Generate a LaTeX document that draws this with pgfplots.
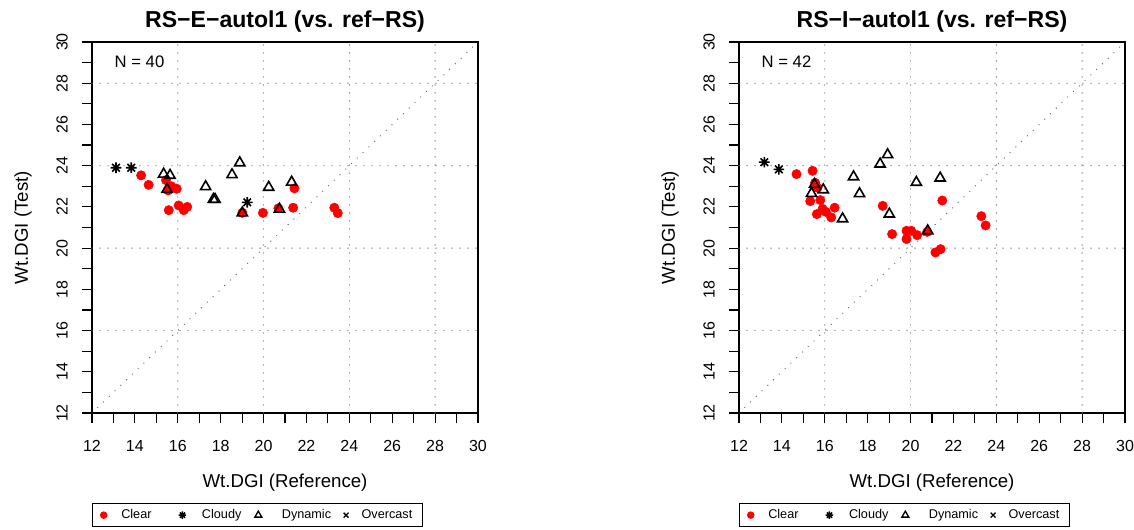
\documentclass[border=0pt]{standalone}
\usepackage{pgfplots}
\pgfplotsset{compat=1.18}
\usepackage{fontspec}
\setmainfont{Liberation Sans}

\pgfdeclareplotmark{rstar}{%
  \pgfpathmoveto{\pgfqpoint{-\pgfplotmarksize}{0pt}}\pgfpathlineto{\pgfqpoint{\pgfplotmarksize}{0pt}}%
  \pgfpathmoveto{\pgfqpoint{0pt}{-\pgfplotmarksize}}\pgfpathlineto{\pgfqpoint{0pt}{\pgfplotmarksize}}%
  \pgfpathmoveto{\pgfqpoint{-0.7071\pgfplotmarksize}{-0.7071\pgfplotmarksize}}\pgfpathlineto{\pgfqpoint{0.7071\pgfplotmarksize}{0.7071\pgfplotmarksize}}%
  \pgfpathmoveto{\pgfqpoint{-0.7071\pgfplotmarksize}{0.7071\pgfplotmarksize}}\pgfpathlineto{\pgfqpoint{0.7071\pgfplotmarksize}{-0.7071\pgfplotmarksize}}%
  \pgfusepathqstroke}

\pgfplotsset{
 dgi/.style={
  scale only axis, width=289.5pt, height=278.25pt,
  xmin=12, xmax=30, ymin=12, ymax=30,
  xtick={12,14,...,30}, ytick={12,14,...,30},
  minor xtick={13,15,...,29}, minor ytick={13,15,...,29},
  tick align=outside, tick pos=left,
  major tick length=7.5pt, minor tick length=7.5pt,
  every tick/.style={black, line width=0.9pt},
  axis line style={line width=1pt, black},
  extra x ticks={16,20,24,28}, extra y ticks={16,20,24,28},
  extra x tick labels={}, extra y tick labels={},
  extra tick style={grid=major, major tick length=0pt},
  major grid style={draw=black!60, line width=1pt, line cap=round, dash pattern=on 0pt off 6pt},
  /pgf/number format/assume math mode=true,
  ticklabel style={font=\fontsize{12}{14}\selectfont},
  xticklabel style={anchor=center, yshift=-17.5pt},
  yticklabel style={anchor=center, xshift=-15pt, rotate=90},
  title style={at={(0.5,1.0593)}, anchor=center, yshift=-7.5pt, font=\bfseries\fontsize{17.3}{20}\selectfont},
  xlabel style={at={(0.5,-0.1887)}, anchor=center, font=\fontsize{14}{16}\selectfont},
  ylabel style={at={(-0.1788,0.5)}, anchor=center, font=\fontsize{14}{16}\selectfont},
  xlabel={Wt.DGI (Reference)}, ylabel={Wt.DGI (Test)},
  legend columns=4,
  legend image code/.code={\path (0pt,0pt) (10pt,0pt);\draw[mark repeat=2,mark phase=2,##1] plot coordinates {(0pt,0pt)(5pt,0pt)(10pt,0pt)};},
  legend style={at={(0,-0.2426)}, anchor=north west, draw=black, line width=0.8pt,
    font=\fontsize{9.5}{11}\selectfont, inner xsep=3pt, inner ysep=2.5pt,
    column sep=0pt,
    /tikz/every even column/.style={column sep=0pt},
    /tikz/every odd column/.style={column sep=0pt},
    nodes={inner xsep=0pt}},
  clear/.style={only marks, mark=*, mark size=3.5pt, color=red, mark options={fill=red, draw=red}},
  cloudy/.style={only marks, mark=rstar, mark size=4pt, black, mark options={line width=1.2pt}},
  dynamic/.style={only marks, mark=triangle, mark size=4.4pt, black, mark options={line width=1.2pt, fill=none}},
  refline/.style={draw=black!60, line width=1pt, line cap=round, dash pattern=on 0pt off 6pt},
 }
}

\newcommand{\dgilegend}{%
\addlegendimage{only marks, mark=*, mark size=2.4pt, red, mark options={fill=red}}
\addlegendentry{\makebox[48.25pt][l]{\hspace*{7.75pt}Clear}}
\addlegendimage{only marks, mark=rstar, mark size=2.8pt, black, mark options={line width=1.1pt}}
\addlegendentry{\makebox[46.1pt][l]{\hspace*{9.25pt}Cloudy}}
\addlegendimage{only marks, mark=triangle, mark size=3pt, black, mark options={line width=1pt}}
\addlegendentry{\makebox[55pt][l]{\hspace*{12.25pt}Dynamic}}
\addlegendimage{only marks, mark=x, mark size=2.6pt, black, mark options={line width=1pt}}
\addlegendentry{\makebox[49.05pt][l]{\hspace*{6.25pt}Overcast}}
}

\begin{document}
\begin{tikzpicture}
\useasboundingbox (-69pt,-87pt) rectangle (781.5pt,309.75pt);

\begin{axis}[dgi, at={(0pt,0pt)}, anchor=south west,
  title={RS−E−autol1 (vs. ref−RS)}]
\addplot[refline, forget plot] coordinates {(12,12) (30,30)};
\addplot[clear, forget plot] coordinates {
(14.29,23.53) (14.64,23.07) (15.45,23.30) (15.70,23.00) (15.95,22.88) (15.55,22.80)
(15.58,21.84) (16.04,22.07) (16.28,21.84) (16.44,22.00) (19.01,21.71) (19.97,21.71)
(20.69,21.93) (21.38,21.96) (21.44,22.90) (23.30,21.96) (23.46,21.70)
};
\addplot[cloudy, forget plot] coordinates {(13.12,23.90) (13.83,23.90) (19.24,22.22)};
\addplot[dynamic, forget plot] coordinates {
(15.34,23.59) (15.64,23.53) (15.50,22.85) (17.30,22.98) (17.66,22.36) (17.74,22.36)
(18.53,23.56) (18.89,24.14) (19.01,21.71) (20.24,22.95) (20.74,21.89) (21.31,23.20)
};
\node[anchor=west, font=\fontsize{12.5}{14}\selectfont] at (axis cs:12.84,29.03) {N = 40};
\dgilegend
\end{axis}

\begin{axis}[dgi, at={(485.25pt,0pt)}, anchor=south west,
  title={RS−I−autol1 (vs. ref−RS)}]
\addplot[refline, forget plot] coordinates {(12,12) (30,30)};
\addplot[clear, forget plot] coordinates {
(14.68,23.59) (15.43,23.75) (15.55,23.17) (15.66,22.93) (15.32,22.28) (15.79,22.33)
(15.63,21.65) (16.05,21.76) (16.46,21.96) (16.30,21.49) (15.90,21.90) (18.70,22.05)
(19.14,20.68) (19.81,20.84) (20.03,20.84) (19.81,20.44) (20.31,20.63) (20.78,20.79)
(21.48,22.31) (21.16,19.79) (21.40,19.95) (23.30,21.55) (23.50,21.10)
};
\addplot[cloudy, forget plot] coordinates {(13.18,24.17) (13.86,23.82)};
\addplot[dynamic, forget plot] coordinates {
(18.93,24.53) (18.58,24.08) (17.34,23.46) (15.52,23.09) (15.38,22.65) (15.93,22.83)
(17.62,22.64) (16.83,21.42) (19.01,21.65) (20.27,23.19) (21.38,23.40) (20.80,20.84)
};
\node[anchor=west, font=\fontsize{12.5}{14}\selectfont] at (axis cs:12.84,29.03) {N = 42};
\dgilegend
\end{axis}
\end{tikzpicture}
\end{document}
